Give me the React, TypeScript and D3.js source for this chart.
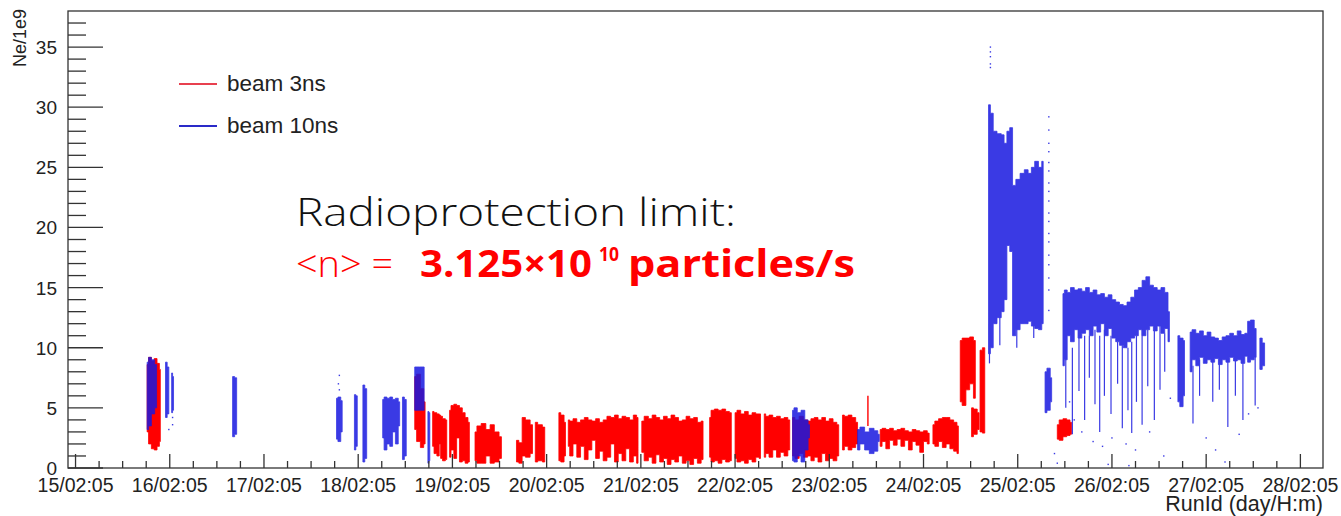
import React from 'react';
import * as d3 from 'd3';

type Reading = [number, number, number]; // [days since 15/02 05:05, low, high] in units of 1e9
type Dot = [number, number];

// Axis labels
const dayLabels = [
  '15/02:05', '16/02:05', '17/02:05', '18/02:05', '19/02:05', '20/02:05', '21/02:05',
  '22/02:05', '23/02:05', '24/02:05', '25/02:05', '26/02:05', '27/02:05', '28/02:05',
];
const yTickValues = [0, 5, 10, 15, 20, 25, 30, 35];

// beam 3ns runs: contiguous stretches of readings, envelope low/high per reading
const beam3nsRuns: Reading[][] = [
  [[0.76, 3.0, 8.6], [0.79, 2.0, 9.2], [0.82, 1.6, 8.9], [0.85, 1.5, 9.1], [0.88, 1.8, 8.7], [0.90, 2.2, 8.2]],
  [[3.60, 3.2, 7.6], [3.64, 2.2, 7.8], [3.68, 1.7, 6.6], [3.71, 2.0, 5.5]],
  [[3.79, 1.8, 4.7], [3.82, 1.2, 4.6], [3.85, 1.0, 4.5], [3.87, 2.0, 4.4], [3.88, 0.8, 4.3], [3.91, 0.6, 4.1], [3.94, 0.7, 4.0]],
  [[3.97, 0.9, 4.8], [4.00, 1.5, 5.2], [4.03, 0.8, 5.3], [4.06, 2.5, 5.2], [4.09, 0.5, 5.0], [4.12, 0.6, 4.6], [4.15, 0.4, 4.2], [4.18, 0.5, 3.8]],
  [[4.24, 0.6, 3.0], [4.28, 0.4, 3.5], [4.33, 0.4, 3.7], [4.38, 1.0, 3.2], [4.42, 0.4, 3.6], [4.47, 0.5, 3.0], [4.52, 0.8, 2.6]],
  [[4.68, 0.5, 2.3], [4.73, 0.4, 2.1], [4.75, 1.0, 4.2], [4.80, 0.9, 4.0], [4.85, 1.2, 3.6]],
  [[4.88, 0.5, 3.8], [4.93, 0.6, 3.6], [4.98, 0.5, 3.4]],
  [[5.13, 0.6, 4.6], [5.17, 0.5, 4.4], [5.20, 1.0, 3.8]],
  [[5.23, 1.8, 4.0], [5.26, 1.0, 3.9], [5.30, 2.0, 4.1], [5.34, 0.9, 3.8], [5.38, 1.8, 4.0], [5.42, 0.7, 4.2],
   [5.46, 1.5, 4.0], [5.50, 2.3, 3.9], [5.54, 0.8, 4.1], [5.58, 1.4, 3.8], [5.62, 0.6, 4.0], [5.66, 0.9, 4.3],
   [5.70, 2.0, 4.2], [5.74, 0.5, 4.4], [5.78, 1.2, 4.1], [5.82, 0.6, 4.3], [5.86, 1.6, 4.2], [5.90, 0.5, 4.0],
   [5.94, 1.0, 4.4], [5.97, 0.4, 4.2]],
  [[6.01, 1.3, 3.9], [6.06, 0.6, 4.3], [6.10, 0.9, 4.1], [6.14, 0.4, 4.4],
   [6.18, 1.1, 4.2], [6.22, 0.5, 4.0], [6.26, 0.8, 4.3], [6.30, 0.3, 4.1], [6.34, 0.7, 4.4], [6.38, 0.5, 4.2],
   [6.42, 1.0, 3.9], [6.46, 0.4, 4.0], [6.50, 0.6, 4.3], [6.54, 0.3, 4.1], [6.58, 0.8, 4.2], [6.62, 0.4, 3.8], [6.66, 0.7, 3.9]],
  [[6.73, 0.9, 4.2], [6.76, 0.5, 4.8], [6.80, 0.6, 4.9], [6.84, 0.4, 4.8], [6.88, 0.7, 4.9], [6.92, 0.5, 4.7], [6.96, 0.6, 4.6]],
  [[7.00, 0.8, 4.6], [7.04, 0.5, 4.8], [7.08, 0.6, 4.5], [7.12, 0.4, 4.7], [7.16, 0.7, 4.4], [7.20, 0.5, 4.6], [7.24, 0.9, 4.5], [7.27, 0.8, 4.5]],
  [[7.31, 0.9, 4.5], [7.34, 1.2, 4.3], [7.38, 0.9, 4.4], [7.42, 1.5, 4.2], [7.46, 0.9, 4.3], [7.50, 1.3, 4.1], [7.54, 1.0, 4.2], [7.58, 1.5, 4.0]],
  [[7.61, 1.0, 4.2], [7.66, 0.8, 4.0], [7.70, 1.2, 4.3], [7.75, 0.9, 4.0], [7.79, 1.0, 3.9],
   [7.82, 0.6, 4.1], [7.86, 0.9, 4.2], [7.90, 0.5, 4.0], [7.94, 1.2, 4.2], [7.98, 0.6, 3.9], [8.02, 0.8, 4.1], [8.06, 0.6, 3.8], [8.10, 1.0, 3.6]],
  [[8.14, 1.5, 4.4], [8.18, 1.8, 4.3], [8.22, 1.5, 4.4], [8.26, 1.7, 4.2], [8.30, 2.0, 3.8]],
  [[8.54, 1.8, 3.2], [8.58, 2.2, 3.3], [8.62, 1.6, 3.2], [8.66, 2.3, 3.3], [8.70, 1.9, 3.1], [8.74, 2.4, 3.2], [8.78, 1.8, 3.3],
   [8.82, 2.3, 3.1], [8.86, 1.5, 3.0], [8.90, 2.2, 3.2], [8.94, 1.9, 3.1], [8.98, 1.3, 3.0], [9.02, 2.2, 3.1], [9.06, 2.0, 2.9]],
  [[9.10, 2.0, 3.6], [9.14, 1.8, 3.9], [9.18, 2.2, 4.1], [9.22, 1.7, 4.2], [9.26, 2.0, 4.2], [9.30, 1.6, 4.0], [9.34, 1.4, 3.8], [9.37, 1.2, 3.5]],
  [[9.39, 5.5, 10.6], [9.43, 5.2, 10.8], [9.47, 6.5, 10.8], [9.51, 7.0, 10.9], [9.55, 5.8, 10.6]],
  [[9.51, 2.6, 5.0], [9.55, 2.8, 4.9], [9.59, 3.2, 4.6]],
  [[9.60, 3.0, 9.8], [9.65, 2.9, 10.0]],
  [[10.42, 2.4, 3.6], [10.46, 2.3, 4.0], [10.50, 2.6, 4.1], [10.54, 2.7, 4.0], [10.57, 2.8, 3.8]],
];
const beam3nsStreaks: Reading[] = [[8.41, 3.5, 6.0]];

// beam 10ns runs
const beam10nsRuns: Reading[][] = [
  [[0.76, 3.2, 8.8], [0.79, 3.5, 9.2], [0.82, 4.5, 9.0], [0.86, 5.0, 8.6]],
  [[0.955, 4.2, 8.8], [0.99, 4.5, 8.4]],
  [[1.02, 4.6, 7.9], [1.04, 4.8, 7.6]],
  [[1.667, 2.6, 7.6], [1.71, 2.8, 7.5]],
  [[2.77, 2.4, 5.8], [2.80, 2.2, 5.9], [2.83, 3.0, 5.6]],
  [[2.96, 1.5, 6.1], [2.99, 1.8, 6.0]],
  [[3.05, 0.5, 6.9], [3.09, 0.8, 6.6]],
  [[3.26, 2.5, 5.7], [3.29, 1.5, 5.9], [3.32, 2.0, 5.8], [3.35, 1.8, 5.9], [3.38, 3.0, 5.7], [3.41, 2.0, 5.8], [3.44, 3.5, 5.5]],
  [[3.47, 0.7, 5.9], [3.51, 1.0, 5.7]],
  [[3.60, 4.8, 8.4], [3.70, 4.8, 8.4]],
  [[3.74, 0.4, 4.7], [3.76, 0.6, 4.6]],
  [[7.61, 0.6, 4.8], [7.64, 0.5, 5.0], [7.68, 1.0, 4.6], [7.72, 0.5, 4.8], [7.76, 1.5, 4.0], [7.79, 2.5, 3.6]],
  [[8.30, 1.5, 3.2], [8.35, 2.0, 3.4], [8.40, 1.5, 3.0], [8.45, 1.2, 3.3], [8.50, 1.4, 3.1], [8.53, 2.2, 2.8]],
  [[9.69, 9.5, 30.2], [9.73, 10.0, 29.5], [9.75, 12.0, 28.0], [9.81, 12.5, 27.8], [9.84, 13.0, 27.7], [9.87, 14.0, 27.0],
   [9.90, 18.5, 28.0], [9.93, 18.0, 28.3], [9.96, 11.0, 23.5], [10.00, 11.5, 24.0], [10.05, 12.0, 24.5], [10.09, 12.0, 24.8],
   [10.13, 12.2, 24.5], [10.16, 11.8, 25.0], [10.20, 11.6, 25.5], [10.24, 11.5, 25.0], [10.27, 12.0, 25.5]],
  [[10.29, 4.6, 8.0], [10.33, 4.8, 8.3], [10.36, 5.5, 7.5]],
  [[10.48, 8.5, 14.5], [10.51, 9.0, 14.8], [10.54, 11.0, 14.6], [10.58, 10.5, 15.0], [10.62, 11.5, 14.8], [10.66, 10.8, 14.9],
   [10.70, 11.2, 14.7], [10.74, 11.5, 15.0], [10.78, 11.0, 14.6], [10.82, 11.8, 14.8], [10.86, 11.3, 14.4], [10.90, 12.0, 14.5],
   [10.94, 11.0, 14.2], [10.98, 11.6, 14.4], [11.02, 10.8, 14.0], [11.06, 10.5, 13.8], [11.10, 10.2, 13.6], [11.14, 10.0, 13.5],
   [11.18, 10.5, 13.8], [11.22, 10.8, 14.2], [11.26, 11.0, 14.8], [11.30, 11.5, 15.0], [11.34, 11.0, 15.6], [11.38, 11.5, 15.9],
   [11.42, 11.8, 15.2], [11.46, 11.4, 15.0], [11.50, 11.8, 14.8], [11.54, 11.2, 15.0], [11.58, 11.6, 14.6], [11.61, 10.5, 13.0]],
  [[11.70, 5.5, 11.0], [11.74, 5.1, 10.8], [11.77, 6.0, 10.6]],
  [[11.83, 8.0, 11.3], [11.87, 9.0, 11.5], [11.91, 8.5, 11.2], [11.95, 9.2, 11.4], [11.99, 8.7, 11.0], [12.03, 9.0, 11.3],
   [12.07, 8.8, 10.9], [12.11, 9.1, 10.8], [12.15, 8.6, 10.6], [12.19, 9.0, 10.9], [12.23, 8.8, 11.0], [12.27, 9.2, 11.2],
   [12.31, 8.9, 11.0], [12.35, 9.0, 11.4], [12.39, 8.7, 11.1], [12.43, 9.3, 11.2], [12.45, 8.8, 12.2], [12.49, 9.0, 12.3], [12.53, 9.2, 11.6]],
  [[12.57, 8.2, 10.8], [12.62, 8.5, 10.4]],
];
const beam10nsStreaks: Reading[] = [
  [9.70, 8.7, 12], [9.81, 10.2, 13], [9.99, 10.0, 12], [10.17, 10.8, 12],
  [10.51, 5.0, 10], [10.58, 2.8, 10], [10.65, 6.4, 11], [10.71, 4.0, 11], [10.76, 7.5, 11], [10.82, 5.3, 11.5],
  [10.87, 3.0, 11], [10.92, 6.0, 11.5], [10.99, 4.5, 11], [11.06, 7.0, 10.5], [11.11, 3.3, 10.2], [11.17, 4.8, 10],
  [11.21, 2.9, 10.5], [11.26, 5.5, 11], [11.32, 3.6, 11.5], [11.38, 6.8, 11.5], [11.45, 4.0, 11.5], [11.51, 6.5, 11.8], [11.56, 8.0, 11.2],
  [11.86, 3.7, 8.5], [11.93, 6.0, 9], [12.07, 5.5, 9], [12.14, 6.5, 9], [12.23, 3.4, 9], [12.31, 6.0, 9], [12.39, 4.0, 9], [12.52, 5.2, 9.2],
];
const beam10nsDots: Dot[] = [
  [9.71, 35.0], [9.71, 34.6], [9.71, 34.2], [9.71, 33.6], [9.71, 33.3],
  [10.33, 29.2], [10.33, 28.1], [10.33, 27.0], [10.33, 26.3], [10.33, 25.4], [10.33, 24.7], [10.33, 23.7], [10.33, 23.0],
  [10.33, 22.2], [10.33, 21.2], [10.33, 20.5], [10.33, 19.5], [10.33, 18.8], [10.33, 17.7], [10.33, 16.9], [10.33, 15.8], [10.33, 14.8], [10.33, 13.1],
  [2.80, 7.7], [2.79, 7.0], [2.80, 6.5], [1.03, 4.2], [1.03, 3.6], [0.99, 3.2],
  [10.55, 5.5], [10.60, 4.0], [10.68, 3.0], [10.80, 2.2], [10.90, 1.8], [11.00, 2.5], [11.15, 2.0], [11.25, 1.5],
  [11.40, 3.0], [11.55, 1.0], [10.96, 0.3], [11.18, 0.2], [11.62, 5.8], [12.00, 2.5], [12.10, 1.5], [12.20, 0.5],
  [12.35, 2.8], [12.45, 4.5], [12.55, 5.0], [10.42, 0.4], [10.39, 1.2],
];

const RED = '#ff0000';
const BLUE = '#1818e0';
const AXIS = '#333333';

export default function App() {
  const x = d3.scaleLinear().domain([-0.08, 13.24]).range([68, 1323]);
  const y = d3.scaleLinear().domain([0, 38]).range([468, 11]);
  const band = d3.area<Reading>()
    .x(d => x(d[0]))
    .y0(d => y(d[1]))
    .y1(d => y(d[2]))
    .curve(d3.curveStep);

  const xMinor = d3.range(0, 13.25, 0.25);
  const yMinor = d3.range(0, 38, 1);
  const [x0, x1] = x.range();
  const [yBottom, yTop] = y.range();

  return (
    <svg width={1341} height={516} style={{ position: 'absolute', left: 0, top: 0, background: '#fff' }}
      fontFamily="'Liberation Sans', Arial, Helvetica, sans-serif">
      {/* beam 3ns */}
      <g fill={RED} stroke={RED} strokeWidth={0.8}>
        {beam3nsRuns.map((run, i) => <path key={i} d={band(run) ?? ''} />)}
        {beam3nsStreaks.map((s, i) => (
          <line key={i} x1={x(s[0])} x2={x(s[0])} y1={y(s[1])} y2={y(s[2])} strokeWidth={1.4} />
        ))}
      </g>
      {/* beam 10ns */}
      <g fill={BLUE} stroke={BLUE} strokeWidth={0.8} opacity={0.85}>
        {beam10nsRuns.map((run, i) => <path key={i} d={band(run) ?? ''} />)}
        {beam10nsStreaks.map((s, i) => (
          <line key={i} x1={x(s[0])} x2={x(s[0])} y1={y(s[1])} y2={y(s[2])} strokeWidth={1.2} />
        ))}
        {beam10nsDots.map((p, i) => (
          <rect key={i} x={x(p[0]) - 0.7} y={y(p[1]) - 0.7} width={1.4} height={1.4} stroke="none" />
        ))}
      </g>

      {/* frame */}
      <rect x={x0} y={yTop} width={x1 - x0} height={yBottom - yTop} fill="none" stroke={AXIS} strokeWidth={1.3} />

      {/* y axis ticks */}
      <g stroke={AXIS} strokeWidth={1.3}>
        {yMinor.map(v => (
          <line key={v} x1={x0} x2={x0 + (v % 5 === 0 ? 35 : 18)} y1={y(v)} y2={y(v)} />
        ))}
      </g>
      <g fontSize={19} fill="#222" textAnchor="end">
        {yTickValues.map(v => (
          <text key={v} x={x0 - 11} y={y(v) + 7}>{v}</text>
        ))}
      </g>
      <text transform={`translate(26, ${yTop - 2}) rotate(-90)`} textAnchor="end" fontSize={18} fill="#222">Ne/1e9</text>

      {/* x axis ticks */}
      <g stroke={AXIS} strokeWidth={1.3}>
        {xMinor.map(t => (
          <line key={t} x1={x(t)} x2={x(t)} y1={yBottom} y2={yBottom - (t % 1 === 0 ? 14 : 7)} />
        ))}
      </g>
      <g fontSize={19.5} fill="#222" textAnchor="middle">
        {dayLabels.map((lab, i) => (
          <text key={lab} x={x(i)} y={yBottom + 24}>{lab}</text>
        ))}
      </g>
      <text x={x1} y={511} textAnchor="end" fontSize={21.5} fill="#222">RunId (day/H:m)</text>

      {/* legend */}
      <line x1={179} x2={217} y1={84} y2={84} stroke="#e8404f" strokeWidth={2} />
      <text x={227} y={91} fontSize={22.5} fill="#222">beam 3ns</text>
      <line x1={179} x2={217} y1={126} y2={126} stroke="#2a2ac8" strokeWidth={2} />
      <text x={227} y={133} fontSize={22.5} fill="#222">beam 10ns</text>

      {/* annotation */}
      <g fontFamily="'Open Sans', Lato, sans-serif">
        <text x={296} y={226} fill="#111" fontWeight={300} fontSize={39} textLength={440} lengthAdjust="spacingAndGlyphs">
          Radioprotection limit:
        </text>
        <text y={277} fill={RED} fontSize={37}>
          <tspan x={296} fontWeight={300} textLength={97} lengthAdjust="spacingAndGlyphs">{'<n> ='}</tspan>
          <tspan x={420} fontWeight={700} textLength={172} lengthAdjust="spacingAndGlyphs">3.125×10</tspan>
          <tspan x={599} fontWeight={700} fontSize={20} dy={-16} textLength={20} lengthAdjust="spacingAndGlyphs">10</tspan>
          <tspan x={628} fontWeight={700} dy={16} textLength={227} lengthAdjust="spacingAndGlyphs">particles/s</tspan>
        </text>
      </g>
    </svg>
  );
}
